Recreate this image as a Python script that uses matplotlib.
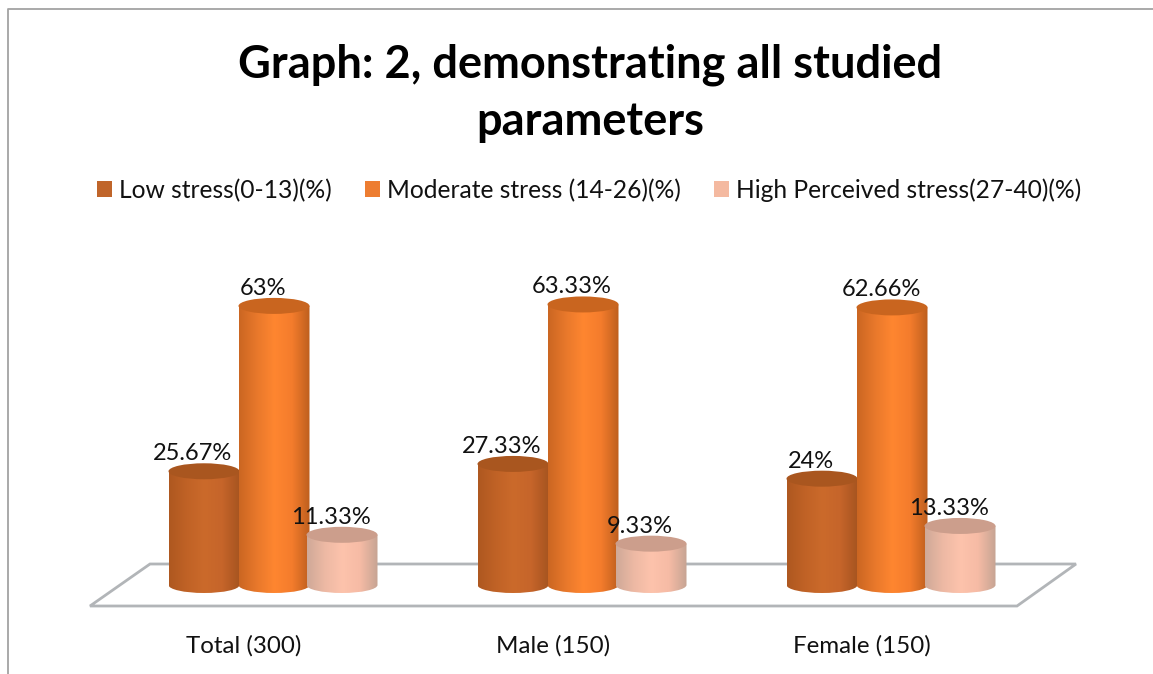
import numpy as np
import matplotlib
matplotlib.use("Agg")
import matplotlib.pyplot as plt
from matplotlib.colors import LinearSegmentedColormap
from matplotlib.patches import Ellipse, PathPatch, Polygon, Patch
from matplotlib.path import Path

plt.rcParams["font.family"] = ["Lato", "DejaVu Sans"]

W, H = 1153, 674
PX_PER_GROUP = 309.0
PX_PER_VAL = 4.43

groups = ["Total (300)", "Male (150)", "Female (150)"]
series = ["Low stress(0-13)(%)", "Moderate stress (14-26)(%)", "High Perceived stress(27-40)(%)"]
low = [25.67, 27.33, 24]
moderate = [63, 63.33, 62.66]
high = [11.33, 9.33, 13.33]
low_labels = ["25.67%", "27.33%", "24%"]
moderate_labels = ["63%", "63.33%", "62.66%"]
high_labels = ["11.33%", "9.33%", "13.33%"]

legend_colors = ["#C0652A", "#ED7D31", "#F4B9A0"]
body_stops = [
    ["#AE5820", "#C06226", "#CB6A2B", "#C6652A", "#A65420"],
    ["#CB6622", "#E8782B", "#FF8630", "#F47C2C", "#BE5F1E"],
    ["#CFA998", "#EDB9A4", "#FDC3AC", "#F6BBA5", "#C6A493"],
]
top_colors = ["#A9561F", "#C9651F", "#CC9E8C"]

# axes runs the full width, value 0 sits at y=585 px
AX_TOP, AX_BOTTOM = 20, 628
BASE_PX = 585
FIRST_TICK_PX = 244
BAR_OFFS = [-40 / PX_PER_GROUP, 30 / PX_PER_GROUP, 98 / PX_PER_GROUP]
BAR_W = 71 / PX_PER_GROUP
ELL_H = 16 / PX_PER_VAL

fig = plt.figure(figsize=(W / 100, H / 100), dpi=100, facecolor="white")
ax = fig.add_axes([0, 1 - AX_BOTTOM / H, 1, (AX_BOTTOM - AX_TOP) / H])
ax.patch.set_alpha(0)
for s in ax.spines.values():
    s.set_visible(False)


def fig_xy(px, py):
    return px / W, 1 - py / H


# chart frame
fig.add_artist(plt.Line2D(*zip(fig_xy(8, H), fig_xy(8, 9), fig_xy(W, 9)), color="#A3A3A3", lw=1.3))

# floor
floor_px = [(90, 606), (1017, 606), (1076, 564), (150, 564)]
ax.add_patch(Polygon([fig_xy(*p) for p in floor_px], closed=True, transform=fig.transFigure,
                     fc="white", ec="#B2B5B8", lw=2, zorder=1))


def cylinder(xc, val, stops, top_color, z):
    x0, x1 = xc - BAR_W / 2, xc + BAR_W / 2
    k = 0.5523
    rx, ry = BAR_W / 2, ELL_H / 2
    verts = [(x0, val), (x0, 0), (x0, -k * ry), (xc - k * rx, -ry), (xc, -ry),
             (xc + k * rx, -ry), (x1, -k * ry), (x1, 0), (x1, val), (x0, val)]
    codes = [Path.MOVETO, Path.LINETO, Path.CURVE4, Path.CURVE4, Path.CURVE4,
             Path.CURVE4, Path.CURVE4, Path.CURVE4, Path.LINETO, Path.CLOSEPOLY]
    body = PathPatch(Path(verts, codes), transform=ax.transData, fc="none", ec="none")
    ax.add_patch(body)
    cmap = LinearSegmentedColormap.from_list("c", stops)
    grad = np.linspace(0, 1, 128).reshape(1, -1)
    im = ax.imshow(grad, cmap=cmap, extent=[x0, x1, -ry, val], aspect="auto", zorder=z,
                   interpolation="bilinear")
    im.set_clip_path(body)
    ax.add_patch(Ellipse((xc, val), BAR_W, ELL_H, fc=top_color, ec="none", zorder=z + 0.1))


for s_i, (vals, labels) in enumerate([(low, low_labels), (moderate, moderate_labels), (high, high_labels)]):
    for g_i, v in enumerate(vals):
        xc = g_i + BAR_OFFS[s_i]
        cylinder(xc, v, body_stops[s_i], top_colors[s_i], 2 + s_i)
        ax.annotate(labels[g_i], (xc, v), xytext=(-11 * 0.72, 17.5 * 0.72), textcoords="offset points",
                    ha="center", va="center", fontsize=17, color="#111111", zorder=10)

ax.set_xlim(-FIRST_TICK_PX / PX_PER_GROUP, (W - FIRST_TICK_PX) / PX_PER_GROUP)
ax.set_ylim((BASE_PX - AX_BOTTOM) / PX_PER_VAL, (BASE_PX - AX_TOP) / PX_PER_VAL)
ax.set_xticks(range(len(groups)), groups)
ax.set_yticks([])
ax.tick_params(axis="x", length=0, pad=5, labelsize=17.4, labelcolor="#111111")

fig.text(590 / W, 1 - 93.5 / H, "Graph: 2, demonstrating all studied\nparameters", ha="center", va="center",
         fontsize=32.5, fontweight="bold", color="black", linespacing=1.45)

handles = [Patch(fc=c, ec="none") for c in legend_colors]
fig.legend(handles, series, loc="center", bbox_to_anchor=(589 / W, 1 - 190 / H), ncol=3, frameon=False,
           fontsize=17.7, handlelength=0.62, handleheight=0.62, handletextpad=0.28, columnspacing=1.35,
           labelcolor="#111111")

fig.savefig("out.png", dpi=100)
